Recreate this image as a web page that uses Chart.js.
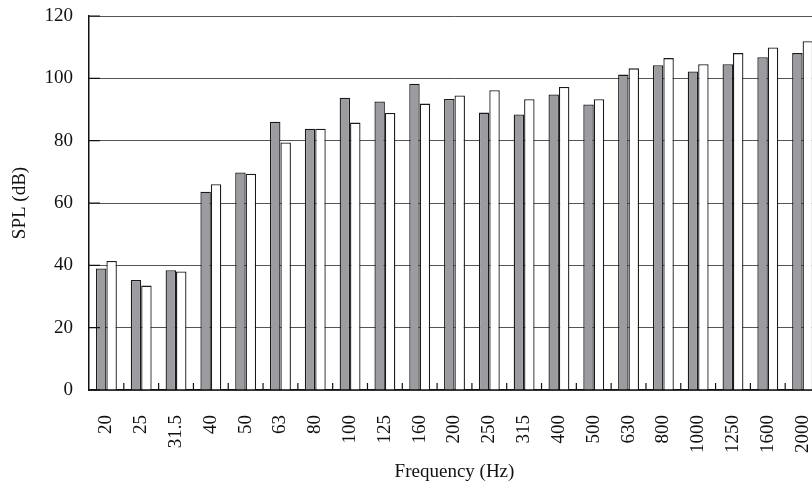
<!DOCTYPE html>
<html>
<head>
<meta charset="utf-8">
<script src="https://cdn.jsdelivr.net/npm/chart.js@4"></script>
<style>
  html, body { margin: 0; padding: 0; background: #fff; overflow: hidden; }
  #wrap { width: 832px; height: 486px; }
</style>
</head>
<body>
<div id="wrap"><canvas id="spl"></canvas></div>
<script>
'use strict'

const freqs = ['20','25','31.5','40','50','63','80','100','125','160','200','250','315','400','500','630','800','1000','1250','1600','2000']
const grayVals = [39.0,35.3,38.4,63.6,69.8,86.1,83.8,93.8,92.6,98.3,93.4,89.0,88.4,94.8,91.6,101.2,104.2,102.2,104.5,106.8,108.1]
const whiteVals = [41.4,33.5,38.0,66.0,69.4,79.4,83.8,85.8,88.9,91.9,94.5,96.2,93.3,97.2,93.3,103.2,106.5,104.5,108.1,109.9,111.9]

const serif = 'Liberation Serif'

// short ticks drawn on the inside of the axes
const innerTicks = {
  id: 'innerTicks',
  afterDatasetsDraw(chart) {
    const ctx = chart.ctx
    const xs = chart.scales.x
    const ys = chart.scales.y
    const area = chart.chartArea
    ctx.save()
    ctx.strokeStyle = '#111'
    ctx.lineWidth = 1.2
    ctx.beginPath()
    for (let i = 0; i < freqs.length - 1; i++) {
      const bx = (xs.getPixelForValue(i) + xs.getPixelForValue(i + 1)) / 2
      ctx.moveTo(bx, area.bottom)
      ctx.lineTo(bx, area.bottom - 7)
    }
    ys.ticks.forEach(t => {
      const py = ys.getPixelForValue(t.value)
      ctx.moveTo(area.left, py)
      ctx.lineTo(area.left + 11, py)
    })
    ctx.stroke()
    ctx.restore()
  }
}

new Chart(document.getElementById('spl'), {
  type: 'bar',
  data: {
    labels: freqs,
    datasets: [{
      data: grayVals,
      backgroundColor: '#9b9ca0',
      borderColor: '#1a1a1a',
      borderWidth: 1.3,
      categoryPercentage: 0.6,
      barPercentage: 1.0
    }, {
      data: whiteVals,
      backgroundColor: '#ffffff',
      borderColor: '#1a1a1a',
      borderWidth: 1.3,
      categoryPercentage: 0.6,
      barPercentage: 1.0
    }]
  },
  options: {
    responsive: true,
    maintainAspectRatio: false,
    animation: false,
    layout: { padding: { top: 16, right: 12, bottom: 0, left: 0 } },
    plugins: { legend: { display: false }, tooltip: { enabled: false } },
    scales: {
      x: {
        grid: { display: false },
        border: { display: true, color: '#111', width: 1.5 },
        ticks: {
          minRotation: 90, maxRotation: 90, autoSkip: false,
          padding: 17, color: '#111',
          font: { family: serif, size: 19 }
        },
        title: {
          display: true, text: 'Frequency (Hz)', color: '#111',
          font: { family: serif, size: 19 }, padding: { top: 4, bottom: 3 }
        },
        afterFit(scale) {
          scale.height = 96
          scale.paddingLeft = 0
          scale.paddingRight = 0
        }
      },
      y: {
        min: 0, max: 120,
        grid: { color: '#555', lineWidth: 1, drawTicks: false },
        border: { display: true, color: '#111', width: 1.5 },
        ticks: {
          stepSize: 20, padding: 16, color: '#111',
          font: { family: serif, size: 19 }
        },
        title: {
          display: true, text: 'SPL (dB)', color: '#111',
          font: { family: serif, size: 19 }, padding: { top: 9, bottom: 4 }
        },
        afterFit(scale) {
          scale.width = 89
          scale.paddingTop = 0
          scale.paddingBottom = 0
        }
      }
    }
  },
  plugins: [innerTicks]
})
</script>
</body>
</html>
